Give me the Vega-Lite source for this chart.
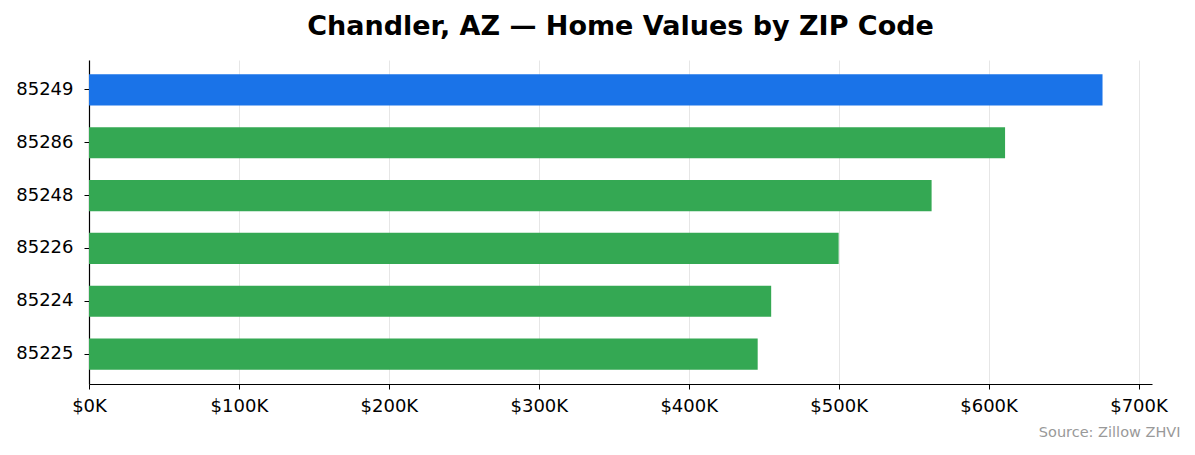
{
  "$schema": "https://vega.github.io/schema/vega-lite/v6.json",
  "autosize": "none",
  "width": 1063,
  "height": 324,
  "padding": {"left": 89, "top": 60, "right": 43, "bottom": 71},
  "background": "white",
  "title": {
    "text": "Chandler, AZ — Home Values by ZIP Code",
    "font": "DejaVu Sans",
    "fontSize": 27,
    "fontWeight": "bold",
    "color": "black",
    "offset": 19
  },
  "config": {
    "view": {"stroke": null},
    "font": "DejaVu Sans"
  },
  "data": {
    "values": [
      {"zip": "85249", "value": 676000},
      {"zip": "85286", "value": 611000},
      {"zip": "85248", "value": 562000},
      {"zip": "85226", "value": 500000},
      {"zip": "85224", "value": 455000},
      {"zip": "85225", "value": 446000}
    ]
  },
  "mark": {"type": "bar"},
  "encoding": {
    "y": {
      "field": "zip",
      "type": "nominal",
      "sort": "-x",
      "scale": {"paddingInner": 0.41, "paddingOuter": 0.27},
      "axis": {
        "title": null,
        "domainColor": "black",
        "domainWidth": 1.2,
        "tickColor": "black",
        "tickSize": 5,
        "labelColor": "black",
        "labelFontSize": 18,
        "labelPadding": 11
      }
    },
    "x": {
      "field": "value",
      "type": "quantitative",
      "scale": {"domain": [0, 709000], "nice": false},
      "axis": {
        "values": [0, 100000, 200000, 300000, 400000, 500000, 600000, 700000],
        "labelExpr": "'$' + format(datum.value / 1000, 'd') + 'K'",
        "labelFlush": false,
        "labelOverlap": false,
        "grid": true,
        "gridColor": "#e6e6e6",
        "domainColor": "black",
        "domainWidth": 1.2,
        "tickColor": "black",
        "tickSize": 5,
        "labelColor": "black",
        "labelFontSize": 18,
        "labelPadding": 8,
        "title": "Source: Zillow ZHVI",
        "titleFontSize": 14.5,
        "titleFontWeight": "normal",
        "titleColor": "#999999",
        "titleAnchor": null,
        "titleAlign": "right",
        "titleBaseline": "middle",
        "titleX": 1091,
        "titleY": 48
      }
    },
    "color": {
      "condition": {"test": "datum.zip === '85249'", "value": "#1a73e8"},
      "value": "#34a853"
    }
  }
}
